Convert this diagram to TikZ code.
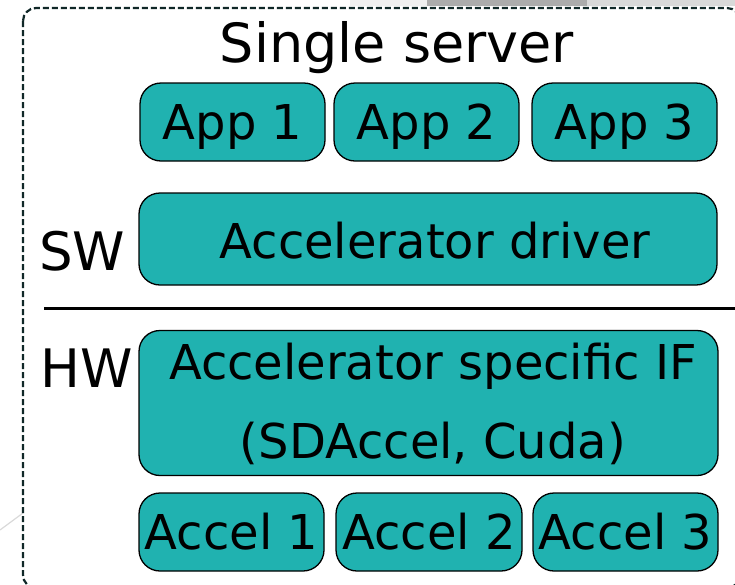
\documentclass[tikz,border=0pt]{standalone}
\usepackage{fontspec}
\setmainfont{DejaVu Sans}
\definecolor{teal1}{HTML}{20B2B0}
\definecolor{dashc}{HTML}{102828}
\tikzset{
  blk/.style={draw=black, line width=1.3pt, fill=teal1, rounded corners=21pt,
    inner sep=0pt, text height=35pt, text depth=0pt,
    font=\fontsize{48}{56}\selectfont},
  lbl/.style={inner sep=0pt, anchor=base west, font=\fontsize{53}{60}\selectfont},
  txt/.style={inner sep=0pt, anchor=base, font=\fontsize{48}{56}\selectfont}
}
\begin{document}
\begin{tikzpicture}[x=1pt,y=-1pt]
\useasboundingbox (0,0) rectangle (735,584);
% background artifacts
\fill[gray!12] (350,0) rectangle (427,6);
\fill[gray!65] (427,0) rectangle (587,6);
\fill[gray!30] (587,0) rectangle (735,6);
\draw[gray!30, line width=1.2pt] (0,530) -- (23,513);
% dashed outer border
\draw[dashc, line width=2.2pt, dash pattern=on 6pt off 3pt, rounded corners=13pt]
  (23,8) rectangle (740,588);
% title
\node[inner sep=0pt, anchor=base, font=\fontsize{54}{60}\selectfont] (title) at (397,62) {Single server};
% apps
\node[blk, minimum width=185pt, minimum height=78pt] (app1) at (232.5,122) {App 1};
\node[blk, minimum width=185pt, minimum height=78pt] (app2) at (426.5,122) {App 2};
\node[blk, minimum width=185pt, minimum height=78pt] (app3) at (624.5,122) {App 3};
% driver
\node[blk, minimum width=578pt, minimum height=92pt] (drv) at (428,239) {};
\node[txt] (drvt) at (435,258) {Accelerator driver};
% labels
\node[lbl] (sw) at (39,270) {SW};
\node[lbl] (hw) at (40,387) {HW};
% separator
\coordinate (sepL) at (44,308);
\coordinate (sepR) at (735,308);
\draw[line width=3pt] (sepL) -- (sepR);
% specific IF
\node[blk, minimum width=579pt, minimum height=145pt] (ifbox) at (428.5,403) {};
\node[txt] (if1) at (433,379) {Accelerator specific IF};
\node[txt] (if2) at (433,458) {(SDAccel, Cuda)};
% accels
\node[blk, minimum width=185pt, minimum height=78pt] (acc1) at (231.5,532) {Accel 1};
\node[blk, minimum width=186pt, minimum height=78pt] (acc2) at (429,532) {Accel 2};
\node[blk, minimum width=185pt, minimum height=78pt] (acc3) at (625.5,532) {Accel 3};
\end{tikzpicture}
\end{document}
